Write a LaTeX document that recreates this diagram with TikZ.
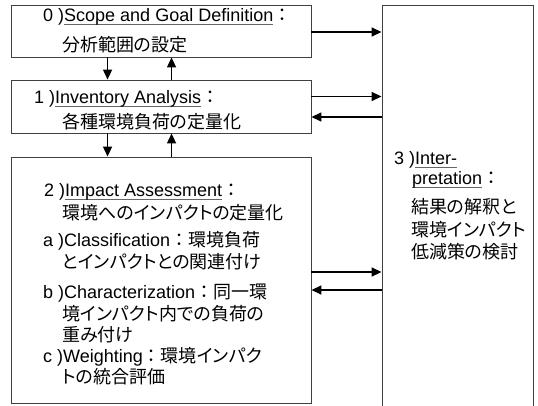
\documentclass[tikz,border=0pt]{standalone}
\usepackage{fontspec}
\setmainfont{Liberation Sans}
\newfontfamily\jp[RawFeature=+palt]{Noto Sans CJK JP}
\newfontfamily\jpw{Noto Sans CJK JP}
\usetikzlibrary{arrows.meta}
\newlength{\gullen}
\newcommand{\gul}[1]{\settowidth{\gullen}{#1}\rlap{\textcolor{black!60}{\rule[-3.5pt]{\gullen}{0.9pt}}}#1}
\newcommand{\jcol}{{\jpw ：}}
\tikzset{
  stage/.style={draw=black!75, line width=0.9pt, inner sep=0pt},
  txt/.style={anchor=base west, inner sep=0pt, font=\fontsize{18}{22}\selectfont},
  flow/.style={line width=1.5pt, -{Triangle[length=10pt,width=9pt]}}
}

\begin{document}
\begin{tikzpicture}[x=1pt, y=-1pt]
			\useasboundingbox (0,0) rectangle (538,405);
			% the four stages
			\node[stage, minimum width=300pt, minimum height=52pt] (b0) at (161,31) {};
			\node[stage, minimum width=300pt, minimum height=53pt] (b1) at (161,106.5) {};
			\node[stage, minimum width=300pt, minimum height=246pt] (b2) at (161,280) {};
			\node[stage, minimum width=151pt, minimum height=410pt] (b3) at (457.5,210) {};
			% 0) scope
			\node[txt] (t0a) at (43,21.5) {0 )\gul{Scope and Goal Definition}\jcol};
			\node[txt] (t0b) at (62,51.5) {\jp 分析範囲の設定};
			% 1) inventory
			\node[txt] (t1a) at (34,103.5) {1 )\gul{Inventory Analysis}\jcol};
			\node[txt] (t1b) at (62,128.5) {\jp 各種環境負荷の定量化};
			% 2) impact
			\node[txt] (t2a) at (44,196.5) {2 )\gul{Impact Assessment}\jcol};
			\node[txt] (t2b) at (62,219.5) {\jp 環境へのインパクトの定量化};
			\node[txt] (t2c) at (43,246.5) {a )Classification\jcol{\jp 環境負荷}};
			\node[txt] (t2d) at (62,268.5) {\jp とインパクトとの関連付け};
			\node[txt] (t2e) at (43,298.5) {b )Characterization\jcol{\jp 同一環}};
			\node[txt] (t2f) at (62,320.5) {\jp 境インパクト内での負荷の};
			\node[txt] (t2g) at (62,341.5) {\jp 重み付け};
			\node[txt] (t2h) at (43,362.5) {c )Weighting\jcol{\jp 環境インパク}};
			\node[txt] (t2i) at (62,383.5) {\jp トの統合評価};
			% 3) interpretation
			\node[txt] (t3a) at (394,164.5) {3 )\gul{Inter-}};
			\node[txt] (t3b) at (412,184.5) {\gul{pretation}\jcol};
			\node[txt] (t3c) at (411,213.5) {\jp 結果の解釈と};
			\node[txt] (t3d) at (411,236.5) {\jp 環境インパクト};
			\node[txt] (t3e) at (411,258.5) {\jp 低減策の検討};
			% arrows between stages
			\draw[flow] ([xshift=97pt]b0.south west) -- ([xshift=97pt]b1.north west);
			\draw[flow] ([xshift=161pt]b1.north west) -- ([xshift=161pt]b0.south west);
			\draw[flow] ([xshift=97pt]b1.south west) -- ([xshift=97pt]b2.north west);
			\draw[flow] ([xshift=161pt]b2.north west) -- ([xshift=161pt]b1.south west);
			\draw[flow] ([yshift=-1pt]b0.east) -- ([yshift=-1pt]b0.east -| b3.west);
			\draw[flow] ([yshift=10pt]b1.east) -- ([yshift=10pt]b1.east -| b3.west);
			\draw[flow] ([yshift=-10.5pt]b1.east -| b3.west) -- ([yshift=-10.5pt]b1.east);
			\draw[flow] ([yshift=8pt]b2.east) -- ([yshift=8pt]b2.east -| b3.west);
			\draw[flow] ([yshift=-10pt]b2.east -| b3.west) -- ([yshift=-10pt]b2.east);
		\end{tikzpicture}
\end{document}
